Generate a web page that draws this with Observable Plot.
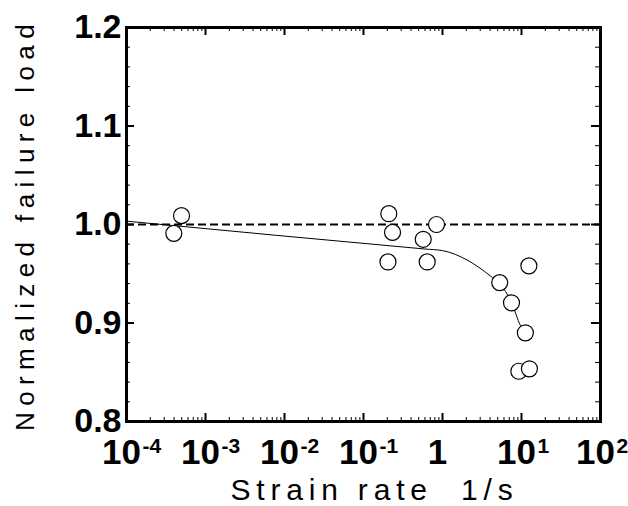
<!DOCTYPE html>
<html><head><meta charset="utf-8">
<script src="https://cdn.jsdelivr.net/npm/d3@7"></script>
<script src="https://cdn.jsdelivr.net/npm/@observablehq/plot@0.6"></script>
<style>body{margin:0;background:#fff} svg{display:block}</style>
</head><body><div id="chart"></div>
<script>
// measured data (strain rate 1/s, normalized failure load)
const strainRate  = [3.97e-4, 4.97e-4, 0.209, 0.233, 0.204, 0.84, 0.57, 0.64, 5.3, 7.47, 11.2, 12.4, 9.25, 12.6];
const failureLoad = [0.991, 1.009, 1.011, 0.992, 0.962, 1.000, 0.985, 0.962, 0.941, 0.9205, 0.890, 0.958, 0.851, 0.8535];
// fitted curve
const fitRate = [1e-4, 0.6, 1, 2.1, 4, 5.3, 7.5, 9.7, 11.2];
const fitLoad = [1.0034, 0.9751, 0.9735, 0.9635, 0.948, 0.940, 0.9205, 0.8975, 0.890];
const referenceLoad = [1.0];
// ticks
const xTickValues = [1e-4, 1e-3, 1e-2, 1e-1, 1, 10, 100];
const xTickBase = ["10", "10", "10", "10", "1", "10", "10"];
const xTickExp  = ["-4", "-3", "-2", "-1", "", "1", "2"];
const yTickValues = [0.8, 0.9, 1.0, 1.1, 1.2];
const yTickLabels = ["0.8", "0.9", "1.0", "1.1", "1.2"];
const xLabel = "Strain rate  1/s";
const yLabel = "Normalized failure load";

const points = strainRate.map((x, i) => ({x, y: failureLoad[i]}));
const fit = fitRate.map((x, i) => ({x, y: fitLoad[i]}));
const xMinor = d3.range(-4, 2).flatMap(e => d3.range(2, 10).map(m => m * 10 ** e));
const yMinor = d3.range(40, 61).filter(k => k % 5 !== 0).map(k => k / 50);

const W = 628, H = 506, mL = 126, mR = 28, mT = 27, mB = 85;
const iw = W - mL - mR, ih = H - mT - mB;

const chart = Plot.plot({
  width: W, height: H,
  marginLeft: mL, marginRight: mR, marginTop: mT, marginBottom: mB,
  x: {type: "log", domain: [1e-4, 1e2], axis: null},
  y: {domain: [0.8, 1.2], axis: null},
  style: {fontFamily: "'Liberation Sans', Arial, sans-serif", background: "#fff", color: "#000"},
  marks: [
    Plot.ruleY(referenceLoad, {strokeWidth: 2, strokeDasharray: "8,4"}),
    Plot.line(fit, {x: "x", y: "y", curve: "monotone-x", strokeWidth: 1}),
    Plot.dot(points, {x: "x", y: "y", r: 8, fill: "white", stroke: "black", strokeWidth: 1.2}),
    Plot.tickX(xTickValues, {x: d => d, insetTop: ih - 8, strokeWidth: 2}),
    Plot.tickX(xTickValues, {x: d => d, insetBottom: ih - 8, strokeWidth: 2}),
    Plot.tickX(xMinor, {x: d => d, insetTop: ih - 4, strokeWidth: 1}),
    Plot.tickX(xMinor, {x: d => d, insetBottom: ih - 4, strokeWidth: 1}),
    Plot.tickY(yTickValues, {y: d => d, insetRight: iw - 8, strokeWidth: 2}),
    Plot.tickY(yTickValues, {y: d => d, insetLeft: iw - 9, strokeWidth: 2}),
    Plot.tickY(yMinor, {y: d => d, insetRight: iw - 4, strokeWidth: 1}),
    Plot.tickY(yMinor, {y: d => d, insetLeft: iw - 5, strokeWidth: 1}),
    Plot.frame({strokeWidth: 3}),
    Plot.text(yTickValues, {y: d => d, text: (d, i) => yTickLabels[i], frameAnchor: "left", textAnchor: "end", lineAnchor: "middle", dx: -5, fontSize: 34, fontWeight: "bold"}),
    Plot.text(xTickValues, {x: d => d, text: (d, i) => xTickBase[i], frameAnchor: "bottom", textAnchor: "middle", lineAnchor: "top", dx: -5, dy: 18, fontSize: 35, fontWeight: "bold"}),
    Plot.text(xTickValues, {x: d => d, text: (d, i) => xTickExp[i], frameAnchor: "bottom", textAnchor: "start", lineAnchor: "top", dx: 16, dy: 17, fontSize: 21, fontWeight: "bold"}),
    Plot.text([xLabel], {text: d => d, frameAnchor: "bottom", textAnchor: "middle", lineAnchor: "bottom", dx: 11, dy: 78, fontSize: 30}),
    Plot.text([yLabel], {text: d => d, frameAnchor: "left", textAnchor: "middle", lineAnchor: "bottom", rotate: -90, dx: -93, dy: 0, fontSize: 26})
  ]
});
d3.select(chart).selectAll("text").each(function() {
  const t = this.textContent;
  if (t === xLabel) this.setAttribute("letter-spacing", "5.8");
  if (t === yLabel) this.setAttribute("letter-spacing", "6.4");
});
document.getElementById("chart").append(chart);
</script>
</body></html>
